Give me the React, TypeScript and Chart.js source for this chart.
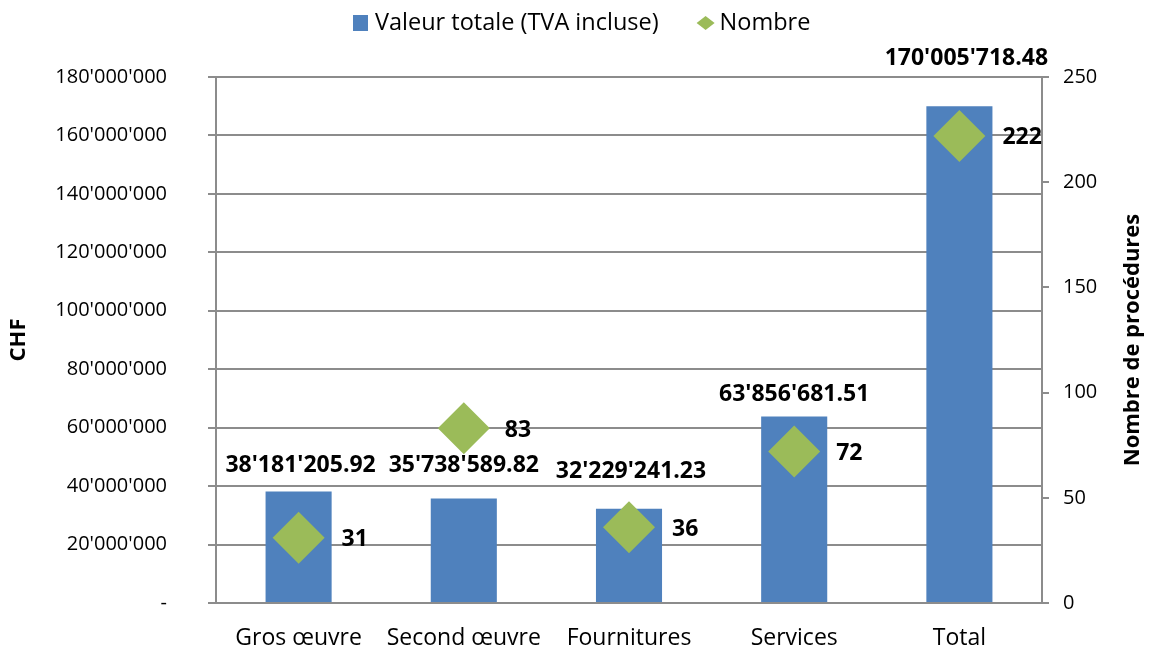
import React, { useEffect, useRef } from 'react';
import { Chart, registerables } from 'chart.js';

Chart.register(...registerables);

const categories = ['Gros œuvre', 'Second œuvre', 'Fournitures', 'Services', 'Total'];
const valeurTotale = [38181205.92, 35738589.82, 32229241.23, 63856681.51, 170005718.48];
const nombre = [31, 83, 36, 72, 222];
const seriesLabels = ['Valeur totale (TVA incluse)', 'Nombre'];
const leftAxisTitle = 'CHF';
const rightAxisTitle = 'Nombre de procédures';

// label nudges (dx, dy) – presentation only
const barLabelShift = [[2, -26], [0, -33], [2, -37], [0, -22], [7, -48]];
const pointLabelShift = [43, 41, 43, 42, 43];

const BAR_COLOR = '#4F81BD';
const POINT_COLOR = '#9BBB59';
const GRID = '#8C8C8C';
const FONT = '"Open Sans", Lato, sans-serif';

function fmt(v: number, decimals: number): string {
  const s = v.toFixed(decimals);
  const [i, d] = s.split('.');
  const withSep = i.replace(/\B(?=(\d{3})+(?!\d))/g, "'");
  return d ? withSep + '.' + d : withSep;
}

const labelsPlugin = {
  id: 'customLabels',
  afterDatasetsDraw(chart: any) {
    const ctx = chart.ctx;
    ctx.save();
    ctx.fillStyle = '#000';
    ctx.font = `bold 23px ${FONT}`;
    ctx.textBaseline = 'middle';
    const barMeta = chart.getDatasetMeta(0);
    barMeta.data.forEach((el: any, i: number) => {
      const [dx, dy] = barLabelShift[i];
      ctx.textAlign = 'center';
      ctx.fillText(fmt(valeurTotale[i], 2), el.x + dx, el.y + dy);
    });
    const ptMeta = chart.getDatasetMeta(1);
    ptMeta.data.forEach((el: any, i: number) => {
      ctx.textAlign = 'left';
      ctx.fillText(String(nombre[i]), el.x + pointLabelShift[i], el.y + 2);
    });
    ctx.restore();
  },
  afterDraw(chart: any) {
    const ctx = chart.ctx;
    const area = chart.chartArea;
    ctx.save();
    // right axis title, reading bottom-to-top
    ctx.font = `bold 22px ${FONT}`;
    ctx.fillStyle = '#000';
    ctx.textAlign = 'center';
    ctx.textBaseline = 'middle';
    ctx.translate(1133, (area.top + area.bottom) / 2);
    ctx.rotate(-Math.PI / 2);
    ctx.fillText(rightAxisTitle, 0, 0);
    ctx.restore();

    // legend
    ctx.save();
    ctx.font = `23.5px ${FONT}`;
    ctx.textBaseline = 'middle';
    ctx.textAlign = 'left';
    const cy = 23;
    let x = 353;
    ctx.fillStyle = BAR_COLOR;
    ctx.fillRect(x, cy - 8, 15, 16);
    x += 15 + 7;
    ctx.fillStyle = '#000';
    ctx.fillText(seriesLabels[0], x, cy);
    x += ctx.measureText(seriesLabels[0]).width + 38;
    ctx.fillStyle = POINT_COLOR;
    const dcx = x + 9;
    ctx.beginPath();
    ctx.moveTo(dcx, cy - 7);
    ctx.lineTo(dcx + 9, cy);
    ctx.lineTo(dcx, cy + 7);
    ctx.lineTo(dcx - 9, cy);
    ctx.closePath();
    ctx.fill();
    x += 18 + 5;
    ctx.fillStyle = '#000';
    ctx.fillText(seriesLabels[1], x, cy);
    ctx.restore();
  },
};

export default function App() {
  const ref = useRef<HTMLCanvasElement | null>(null);
  useEffect(() => {
    if (!ref.current) return;
    Chart.defaults.font.family = FONT;
    const chart = new Chart(ref.current, {
      type: 'bar',
      data: {
        labels: categories,
        datasets: [
          {
            type: 'bar',
            label: seriesLabels[0],
            data: valeurTotale,
            backgroundColor: BAR_COLOR,
            barPercentage: 0.4,
            categoryPercentage: 1,
            yAxisID: 'y',
            order: 1,
          },
          {
            type: 'line',
            label: seriesLabels[1],
            data: nombre,
            showLine: false,
            pointStyle: 'rectRot',
            pointRadius: 26,
            pointHoverRadius: 26,
            pointBackgroundColor: POINT_COLOR,
            pointBorderWidth: 0,
            borderColor: POINT_COLOR,
            backgroundColor: POINT_COLOR,
            yAxisID: 'y1',
            order: 0,
          } as any,
        ],
      },
      options: {
        responsive: true,
        maintainAspectRatio: false,
        animation: false,
        layout: { padding: { top: 77, left: 0, right: 0, bottom: 0 } },
        plugins: {
          legend: { display: false },
          tooltip: { enabled: false },
        },
        scales: {
          x: {
            grid: { display: false },
            border: { display: true, color: GRID, width: 2 },
            ticks: { color: '#000', font: { size: 23, family: FONT }, padding: 14 },
            afterFit: (s: any) => { s.height = 47; },
          },
          y: {
            position: 'left',
            min: 0,
            max: 180000000,
            ticks: {
              stepSize: 20000000,
              color: '#000',
              font: { size: 20, family: FONT, lineHeight: 0.6 },
              padding: 41,
              callback: (v: any) => (Number(v) === 0 ? '-' : fmt(Number(v), 0)),
            },
            grid: { color: GRID, lineWidth: 2, tickLength: 8 },
            border: { display: true, color: GRID, width: 2 },
            title: {
              display: true,
              text: leftAxisTitle,
              color: '#000',
              font: { size: 22, weight: 'bold', family: FONT },
              padding: { top: 6, bottom: 0 },
            },
            afterFit: (s: any) => { s.width = 216; },
          },
          y1: {
            position: 'right',
            min: 0,
            max: 250,
            ticks: { stepSize: 50, color: '#000', font: { size: 20, family: FONT }, padding: 14 },
            grid: { drawOnChartArea: false, color: GRID, lineWidth: 2, tickLength: 7 },
            border: { display: true, color: GRID, width: 2 },
            afterFit: (s: any) => { s.width = 109; },
          },
        },
      },
      plugins: [labelsPlugin],
    });
    return () => chart.destroy();
  }, []);
  return (
    <div style={{ position: 'absolute', left: 0, top: 0, width: 1151, height: 650 }}>
      <canvas ref={ref} />
    </div>
  );
}
